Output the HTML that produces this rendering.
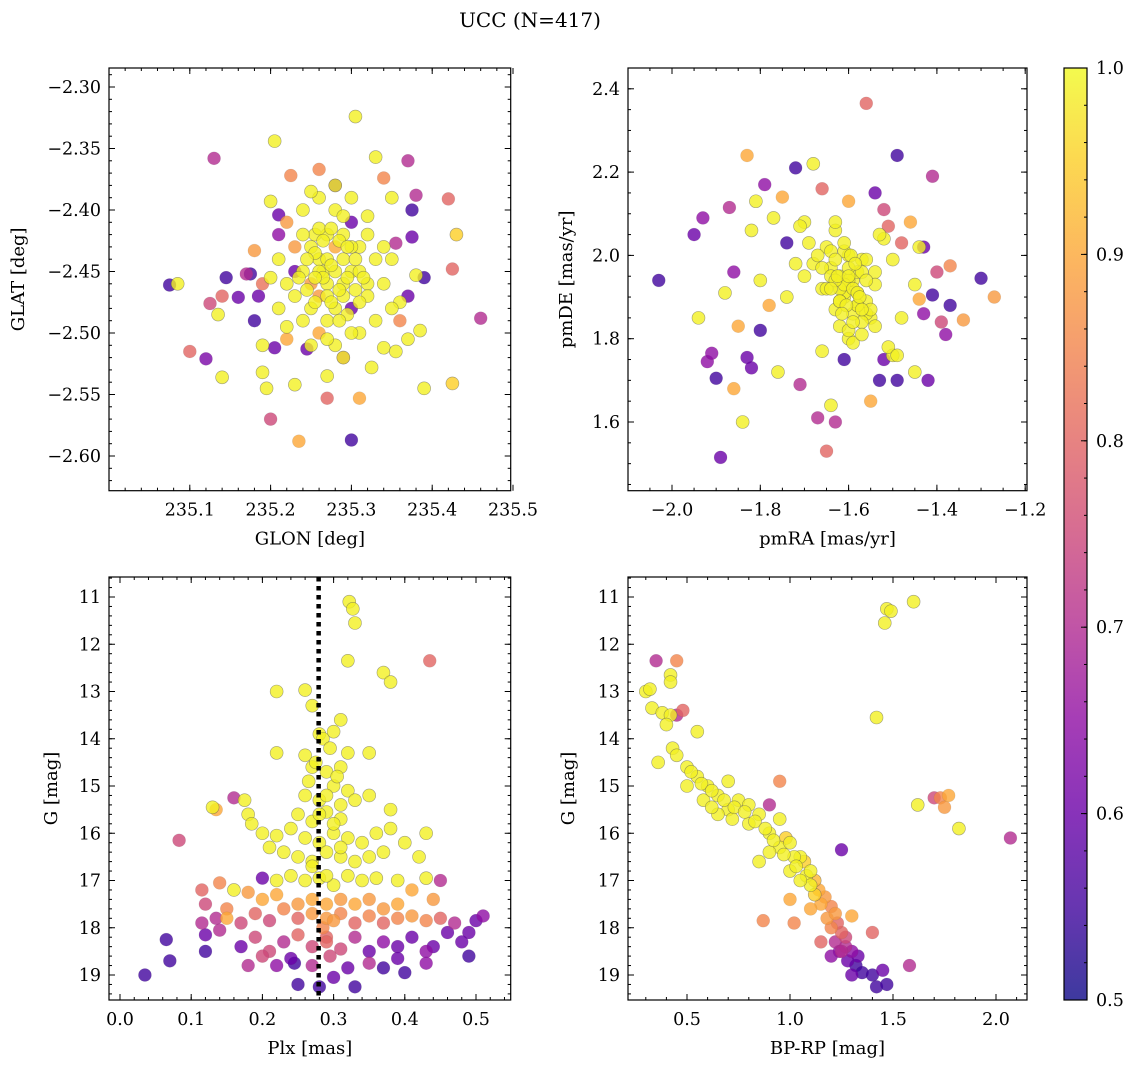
<!DOCTYPE html>
<html><head><meta charset="utf-8"><style>
html,body{margin:0;padding:0;background:#fff;}
svg{display:block;font-family:"DejaVu Serif","Liberation Serif",serif;}
</style></head><body>
<svg id="fig" width="1136" height="1067" viewBox="0 0 1136 1067">
<text x="530" y="27" text-anchor="middle" font-size="20">UCC (N=417)</text>
</svg>
<script>
// ---------- Panel 1: GLON vs GLAT ----------
const p1Lon=[235.075,235.085,235.13,235.125,235.10,235.12,235.14,235.145,235.14,235.135,235.16,235.17,235.175,235.18,235.185,235.18,235.19,235.19,235.195,235.19,235.2,235.205,235.205,235.21,235.2,235.21,235.22,235.225,235.235,235.23,235.245,235.255,235.26,235.265,235.27,235.27,235.28,235.29,235.3,235.305,235.31,235.325,235.33,235.34,235.34,235.35,235.355,235.36,235.37,235.375,235.38,235.375,235.38,235.39,235.385,235.39,235.37,235.37,235.42,235.425,235.43,235.425,235.46,235.355,235.32,235.35,235.36,
235.25,235.26,235.27,235.28,235.29,235.30,235.27,235.26,235.28,235.29,235.31,235.24,235.23,235.22,235.25,235.27,235.30,235.32,235.31,235.28,235.26,235.24,235.23,235.21,235.22,235.24,235.26,235.28,235.30,235.32,235.33,235.34,235.33,235.29,235.27,235.25,235.29,235.27,235.28,235.26,235.30,235.24,235.23,235.31,235.25,235.29,235.28,235.25,235.3,235.32,235.21,235.2,235.34,235.35,235.3,235.27,235.22,235.26,235.29,235.31,
235.255,235.265,235.275,235.285,235.295,235.305,235.245,235.235,235.255,235.275,235.295,235.315,235.265,235.285,235.305,235.245,235.275,235.295,235.255,235.285];
const p1Lat=[-2.461,-2.460,-2.358,-2.476,-2.515,-2.521,-2.536,-2.455,-2.470,-2.485,-2.471,-2.452,-2.452,-2.433,-2.47,-2.49,-2.46,-2.51,-2.545,-2.532,-2.57,-2.512,-2.344,-2.404,-2.393,-2.42,-2.505,-2.372,-2.588,-2.542,-2.513,-2.42,-2.367,-2.45,-2.535,-2.553,-2.38,-2.52,-2.587,-2.324,-2.553,-2.528,-2.357,-2.374,-2.512,-2.39,-2.427,-2.49,-2.36,-2.40,-2.388,-2.422,-2.453,-2.455,-2.498,-2.545,-2.47,-2.505,-2.391,-2.448,-2.42,-2.541,-2.488,-2.515,-2.46,-2.44,-2.475,
-2.43,-2.44,-2.42,-2.43,-2.44,-2.45,-2.46,-2.47,-2.48,-2.46,-2.43,-2.45,-2.43,-2.46,-2.48,-2.49,-2.48,-2.47,-2.50,-2.51,-2.50,-2.49,-2.47,-2.44,-2.41,-2.40,-2.39,-2.40,-2.41,-2.42,-2.44,-2.46,-2.49,-2.42,-2.44,-2.46,-2.47,-2.47,-2.45,-2.45,-2.43,-2.42,-2.45,-2.45,-2.51,-2.52,-2.38,-2.385,-2.39,-2.405,-2.48,-2.455,-2.43,-2.48,-2.5,-2.505,-2.495,-2.415,-2.405,-2.475,
-2.435,-2.455,-2.445,-2.465,-2.455,-2.44,-2.44,-2.455,-2.475,-2.475,-2.485,-2.455,-2.425,-2.425,-2.465,-2.465,-2.415,-2.43,-2.455,-2.49];
const p1Prob=[0.55,0.99,0.7,0.75,0.8,0.62,0.99,0.55,0.8,0.99,0.6,0.7,0.55,0.88,0.6,0.55,0.82,0.99,0.99,0.99,0.75,0.6,0.99,0.6,0.99,0.65,0.9,0.85,0.9,0.99,0.6,0.99,0.85,0.99,0.99,0.8,0.6,0.7,0.55,0.99,0.9,0.99,0.99,0.85,0.99,0.99,0.7,0.85,0.7,0.55,0.7,0.6,0.99,0.55,0.99,0.99,0.6,0.99,0.8,0.8,0.95,0.95,0.7,0.99,0.99,0.99,0.99,
0.99,0.99,0.99,0.9,0.99,0.99,0.99,0.88,0.99,0.99,0.99,0.99,0.88,0.99,0.99,0.99,0.6,0.99,0.99,0.99,0.9,0.99,0.99,0.99,0.88,0.99,0.99,0.99,0.6,0.99,0.99,0.99,0.99,0.99,0.99,0.88,0.99,0.99,0.99,0.99,0.99,0.99,0.6,0.99,0.99,0.99,0.99,0.99,0.99,0.99,0.99,0.99,0.99,0.99,0.99,0.99,0.99,0.99,0.99,0.99,
0.99,0.99,0.99,0.99,0.99,0.99,0.99,0.99,0.99,0.99,0.99,0.99,0.99,0.99,0.99,0.99,0.99,0.99,0.99,0.99];

// ---------- Panel 2: pmRA vs pmDE ----------
const p2RA=[-2.03,-1.95,-1.93,-1.94,-1.92,-1.91,-1.90,-1.89,-1.88,-1.87,-1.86,-1.86,-1.85,-1.84,-1.83,-1.83,-1.82,-1.82,-1.81,-1.8,-1.8,-1.79,-1.78,-1.77,-1.76,-1.75,-1.74,-1.72,-1.71,-1.7,-1.68,-1.67,-1.66,-1.65,-1.64,-1.63,-1.61,-1.6,-1.56,-1.55,-1.54,-1.53,-1.52,-1.51,-1.49,-1.49,-1.48,-1.46,-1.44,-1.43,-1.42,-1.41,-1.41,-1.4,-1.39,-1.38,-1.37,-1.37,-1.34,-1.3,-1.27,-1.45,-1.44,-1.43,-1.45,-1.5,-1.52,
-1.60,-1.62,-1.58,-1.64,-1.56,-1.66,-1.54,-1.60,-1.63,-1.57,-1.61,-1.59,-1.65,-1.55,-1.68,-1.52,-1.62,-1.58,-1.60,-1.64,-1.56,-1.70,-1.50,-1.63,-1.57,-1.61,-1.59,-1.66,-1.54,-1.60,-1.67,-1.53,-1.62,-1.58,-1.65,-1.55,-1.69,-1.51,-1.72,-1.48,-1.60,-1.63,-1.57,-1.74,-1.61,-1.59,-1.66,-1.54,-1.64,-1.56,-1.71,-1.49,-1.62,-1.58,
-1.61,-1.59,-1.63,-1.57,-1.62,-1.58,-1.60,-1.64,-1.56,-1.605,-1.595,-1.615,-1.585,-1.625,-1.575,-1.61,-1.59,-1.6,-1.57,-1.63];
const p2DE=[1.94,2.05,2.09,1.85,1.745,1.765,1.705,1.515,1.91,2.115,1.96,1.68,1.83,1.60,2.24,1.755,1.73,2.06,2.13,1.94,1.82,2.17,1.88,2.09,1.72,2.14,2.03,2.21,1.69,2.08,2.22,1.61,2.16,1.53,1.64,1.60,1.75,2.13,2.365,1.65,2.15,1.70,2.11,2.07,2.24,1.70,2.03,2.08,2.02,2.02,1.70,2.19,1.905,1.96,1.84,1.81,1.88,1.975,1.845,1.945,1.90,1.93,1.895,1.86,1.72,1.76,1.75,
1.93,1.95,1.91,1.97,1.89,1.92,1.96,2.00,1.87,1.99,1.90,1.94,2.02,1.85,1.98,2.04,1.83,1.88,1.80,2.01,1.86,1.95,1.99,2.06,1.84,1.91,1.79,1.97,1.93,1.82,2.00,2.05,1.89,1.96,1.92,1.87,2.03,1.78,1.98,1.85,1.94,2.08,1.81,1.90,2.01,1.86,1.77,1.83,1.95,1.99,2.07,1.76,1.92,1.88,
1.93,1.92,1.94,1.96,1.89,1.91,1.97,1.92,1.94,1.88,2.0,1.86,1.98,1.95,1.90,2.03,1.84,1.95,1.87,1.99];
const p2Prob=[0.55,0.6,0.65,0.99,0.65,0.65,0.55,0.6,0.99,0.7,0.65,0.9,0.9,0.99,0.9,0.6,0.6,0.99,0.99,0.99,0.55,0.65,0.9,0.99,0.99,0.9,0.55,0.55,0.7,0.99,0.99,0.7,0.8,0.8,0.99,0.7,0.55,0.9,0.8,0.9,0.6,0.55,0.75,0.8,0.55,0.55,0.8,0.9,0.99,0.6,0.6,0.7,0.55,0.75,0.75,0.65,0.55,0.85,0.88,0.55,0.88,0.99,0.9,0.65,0.99,0.99,0.6,
0.99,0.99,0.99,0.99,0.99,0.99,0.99,0.99,0.99,0.99,0.99,0.99,0.99,0.99,0.99,0.99,0.99,0.99,0.99,0.99,0.99,0.99,0.99,0.99,0.99,0.99,0.99,0.99,0.99,0.99,0.99,0.99,0.99,0.99,0.99,0.99,0.99,0.99,0.99,0.99,0.99,0.99,0.99,0.99,0.99,0.99,0.99,0.99,0.99,0.99,0.99,0.99,0.99,0.99,
0.99,0.99,0.99,0.99,0.99,0.99,0.99,0.99,0.99,0.99,0.99,0.99,0.99,0.99,0.99,0.99,0.99,0.99,0.99,0.99];

// ---------- Panel 3: Plx vs G ----------
const p3Plx=[0.322,0.327,0.33,0.32,0.37,0.38,0.435,0.22,0.26,0.27,0.31,0.28,0.3,0.22,0.26,0.32,0.35,0.27,0.29,0.31,0.265,0.3,0.32,0.26,0.28,0.31,0.33,0.35,0.38,0.13,0.135,0.16,0.175,0.18,0.185,0.2,0.22,0.24,0.26,0.28,0.3,0.32,0.34,0.36,0.38,0.4,0.43,0.27,0.31,0.29,0.25,0.23,0.25,0.27,0.29,0.31,0.33,0.35,0.37,0.21,0.42,0.083,0.2,0.22,0.24,0.26,0.28,0.3,0.32,0.34,0.36,0.39,0.43,0.45,0.41,0.115,0.14,0.16,0.18,0.2,0.22,0.25,0.27,0.29,0.31,0.33,0.35,0.37,0.39,0.44,0.12,0.135,0.15,0.17,0.19,0.21,0.23,0.25,0.27,0.29,0.31,0.33,0.35,0.37,0.39,0.41,0.43,0.45,0.47,0.49,0.5,0.51,0.115,0.12,0.14,0.15,0.17,0.19,0.21,0.23,0.25,0.27,0.29,0.31,0.33,0.35,0.37,0.39,0.41,0.43,0.44,0.46,0.48,0.065,0.07,0.035,0.12,0.18,0.2,0.22,0.24,0.245,0.25,0.27,0.28,0.3,0.32,0.33,0.35,0.37,0.39,0.4,0.43,0.49,0.3,0.285,0.29,0.295,
0.285,0.295,0.275,0.305,0.29,0.28,0.3,0.31,0.27,0.29];
const p3G=[11.1,11.25,11.55,12.35,12.6,12.8,12.35,13.0,12.97,13.3,13.6,13.9,13.85,14.3,14.35,14.3,14.3,14.6,14.7,14.6,14.9,15.0,15.1,15.2,15.3,15.4,15.3,15.2,15.5,15.45,15.5,15.25,15.3,15.6,15.8,16.0,16.05,15.9,16.1,16.2,16.0,16.1,16.2,16.0,15.9,16.2,16.0,15.75,15.7,15.55,15.6,16.4,16.5,16.6,16.4,16.5,16.6,16.5,16.4,16.3,16.5,16.15,16.95,17.0,16.9,17.0,16.95,17.1,16.9,17.0,16.95,17.0,16.95,17.0,17.2,17.2,17.05,17.2,17.25,17.4,17.3,17.5,17.4,17.5,17.4,17.5,17.4,17.6,17.5,17.4,17.5,17.8,17.6,17.9,17.7,17.85,17.6,17.8,17.7,17.8,17.7,17.9,17.75,17.9,17.8,17.75,17.85,17.8,17.9,18.1,17.85,17.75,17.9,18.15,18.05,17.8,18.4,18.2,18.5,18.3,18.15,18.4,18.2,18.45,18.2,18.5,18.3,18.4,18.2,18.5,18.4,18.1,18.3,18.25,18.7,19.0,18.5,18.8,18.6,18.8,18.65,18.75,19.2,18.8,19.25,19.05,18.85,19.25,18.75,18.85,18.65,18.95,18.75,18.6,17.85,18.0,18.3,18.6,
14.0,14.2,14.5,14.8,15.2,15.6,15.8,16.3,16.7,16.9];
const p3Prob=[0.99,0.99,0.99,0.99,0.99,0.99,0.8,0.99,0.99,0.99,0.99,0.99,0.99,0.99,0.99,0.99,0.99,0.99,0.99,0.99,0.99,0.99,0.99,0.99,0.99,0.99,0.99,0.99,0.99,0.99,0.9,0.7,0.99,0.99,0.99,0.99,0.99,0.99,0.99,0.99,0.99,0.99,0.99,0.99,0.99,0.99,0.99,0.99,0.99,0.99,0.99,0.99,0.99,0.99,0.99,0.99,0.99,0.99,0.99,0.99,0.99,0.75,0.6,0.99,0.99,0.99,0.99,0.99,0.99,0.99,0.99,0.99,0.99,0.7,0.9,0.8,0.85,0.99,0.88,0.9,0.9,0.88,0.9,0.9,0.88,0.9,0.88,0.88,0.9,0.88,0.75,0.7,0.85,0.75,0.8,0.75,0.85,0.8,0.88,0.88,0.85,0.8,0.85,0.8,0.85,0.88,0.85,0.8,0.7,0.6,0.6,0.65,0.7,0.6,0.7,0.9,0.6,0.75,0.75,0.7,0.8,0.75,0.8,0.75,0.7,0.6,0.65,0.6,0.6,0.65,0.6,0.6,0.6,0.55,0.55,0.55,0.55,0.7,0.75,0.65,0.6,0.55,0.55,0.7,0.55,0.6,0.6,0.55,0.7,0.55,0.6,0.55,0.65,0.55,0.88,0.85,0.8,0.75,
0.99,0.99,0.99,0.99,0.99,0.99,0.99,0.99,0.99,0.99];

// ---------- Panel 4: BP-RP vs G ----------
const p4Col=[1.6,1.47,1.49,1.46,1.42,0.35,0.45,0.42,0.42,0.3,0.32,0.33,0.38,0.42,0.45,0.48,0.55,0.4,0.43,0.36,0.45,0.5,0.55,0.6,0.5,0.65,0.58,0.7,0.75,0.8,0.72,0.8,0.85,0.9,0.95,0.95,0.95,1.0,1.05,1.0,1.08,1.1,1.05,1.12,1.15,1.1,1.18,1.22,1.2,1.25,1.22,1.27,1.3,1.28,1.32,1.35,1.4,1.42,1.47,1.45,1.58,1.25,0.9,0.87,1.02,1.4,1.62,1.7,1.73,1.75,1.77,1.82,2.07,1.3,1.25,1.2,1.3,1.15,1.0,0.85,0.65,0.7,0.62,0.9,1.1,1.02,0.98,
0.52,0.57,0.62,0.68,0.73,0.78,0.83,0.88,0.92,0.97,1.03,1.07,1.12,1.14,1.17,1.2,1.23,1.27,1.24,1.33];
const p4G=[11.1,11.25,11.3,11.55,13.55,12.35,12.35,12.65,12.8,13.0,12.95,13.35,13.45,13.5,13.5,13.4,13.85,13.7,14.2,14.5,14.35,14.6,14.8,15.0,15.0,15.2,15.3,15.5,15.3,15.4,15.7,15.8,15.6,16.0,15.7,14.9,16.3,16.2,16.5,16.8,16.9,17.1,17.0,17.3,17.5,17.6,17.8,17.7,18.0,18.1,18.3,18.4,18.5,18.7,18.8,18.95,19.0,19.25,19.2,18.9,18.8,16.35,15.4,17.85,17.9,18.1,15.4,15.25,15.25,15.45,15.2,15.9,16.1,17.75,18.5,18.6,19.0,18.3,17.4,16.6,15.6,14.9,15.45,16.4,16.8,16.5,16.1,
14.7,14.95,15.1,15.3,15.45,15.55,15.75,15.9,16.15,16.45,16.7,16.6,17.0,17.2,17.35,17.55,17.9,18.2,18.5,18.6];
const p4Prob=[0.99,0.99,0.99,0.99,0.99,0.7,0.85,0.99,0.99,0.99,0.99,0.99,0.99,0.99,0.7,0.8,0.99,0.99,0.99,0.99,0.99,0.99,0.99,0.99,0.99,0.99,0.99,0.99,0.99,0.99,0.99,0.99,0.99,0.99,0.99,0.85,0.99,0.99,0.99,0.99,0.99,0.99,0.99,0.95,0.9,0.9,0.88,0.88,0.85,0.8,0.7,0.7,0.65,0.6,0.55,0.55,0.55,0.55,0.55,0.6,0.7,0.6,0.7,0.85,0.85,0.8,0.99,0.75,0.85,0.88,0.9,0.99,0.7,0.9,0.7,0.65,0.6,0.8,0.9,0.99,0.99,0.99,0.99,0.99,0.99,0.99,0.95,
0.99,0.99,0.99,0.99,0.99,0.99,0.99,0.99,0.99,0.99,0.99,0.95,0.92,0.9,0.88,0.85,0.8,0.75,0.65,0.6];

const cbTicks=[0.5,0.6,0.7,0.8,0.9,1.0];
const plxMedian=0.279;

const NS='http://www.w3.org/2000/svg';
const svg=document.getElementById('fig');
function mk(tag,attrs,parent){const e=document.createElementNS(NS,tag);for(const k in attrs)e.setAttribute(k,attrs[k]);(parent||svg).appendChild(e);return e;}
const stops=[[13,8,135],[65,4,157],[106,0,168],[143,13,164],[177,42,144],[204,71,120],[225,100,98],[242,132,75],[252,166,54],[252,206,37],[240,249,33]];
function plasma(t){if(!isFinite(t))t=1;t=Math.max(0,Math.min(1,t));const f=t*10,i=Math.min(9,Math.floor(f)),r=f-i;const a=stops[i],b=stops[i+1];return 'rgb('+a.map((v,k)=>Math.round(v+(b[k]-v)*r)).join(',')+')';}
function pcolor(p){return plasma((p-0.5)/0.5);}

function panel(o){
  const g=mk('g',{});
  
  
  const X=v=>o.L+(v-o.x0)/(o.x1-o.x0)*(o.R-o.L);
  const Y=o.invert?(v=>o.T+(v-o.y0)/(o.y1-o.y0)*(o.B-o.T)):(v=>o.B-(v-o.y0)/(o.y1-o.y0)*(o.B-o.T));
  const n=Math.min(o.xs.length,o.ys.length,o.ps.length);
  const idx=[];for(let i=0;i<n;i++)idx.push(i);
  idx.sort((a,b)=>o.ps[a]-o.ps[b]);
  const pts=mk('g',{},g);
  
  
  idx.forEach(i=>{
    const c=mk('circle',{cx:X(o.xs[i]),cy:Y(o.ys[i]),r:6.5,fill:pcolor(o.ps[i]),'fill-opacity':0.8,stroke:'#555','stroke-opacity':o.ps[i]>0.9?0.55:0.15,'stroke-width':0.6},pts);
    
    
  });
  if(o.vline!==undefined){
    const l=mk('line',{x1:X(o.vline),x2:X(o.vline),y1:o.T,y2:o.B,stroke:'#000','stroke-width':4.5,'stroke-dasharray':'4.5 4.5'},g);
    
    
  }
  const ax=mk('g',{stroke:'#000','stroke-width':1},g);
  
  
  const eps=1e-6;
  for(let v=Math.ceil(o.x0/o.xm-eps)*o.xm;v<=o.x1+eps;v+=o.xm){const x=X(v);mk('line',{x1:x,x2:x,y1:o.B,y2:o.B-3},ax);mk('line',{x1:x,x2:x,y1:o.T,y2:o.T+3},ax);}
  for(let v=Math.ceil(o.y0/o.ym-eps)*o.ym;v<=o.y1+eps;v+=o.ym){const y=Y(v);mk('line',{x1:o.L,x2:o.L+3,y1:y,y2:y},ax);mk('line',{x1:o.R,x2:o.R-3,y1:y,y2:y},ax);}
  o.xt.forEach(v=>{const x=X(v);mk('line',{x1:x,x2:x,y1:o.B,y2:o.B-6},ax);mk('line',{x1:x,x2:x,y1:o.T,y2:o.T+6},ax);
    const t=mk('text',{x:x,y:o.B+25,'text-anchor':'middle','font-size':17.5},g);t.textContent=o.xf(v);
    });
  o.yt.forEach(v=>{const y=Y(v);mk('line',{x1:o.L,x2:o.L+6,y1:y,y2:y},ax);mk('line',{x1:o.R,x2:o.R-6,y1:y,y2:y},ax);
    const t=mk('text',{x:o.L-8,y:y+6,'text-anchor':'end','font-size':17.5},g);t.textContent=o.yf(v);
    });
  mk('rect',{x:o.L,y:o.T,width:o.R-o.L,height:o.B-o.T,fill:'none',stroke:'#000','stroke-width':1.2},g);
  const xl=mk('text',{x:(o.L+o.R)/2,y:o.B+54,'text-anchor':'middle','font-size':18},g);xl.textContent=o.xlab;
  
  const yx=o.L-o.ylo,yy=(o.T+o.B)/2;
  const yl=mk('text',{x:yx,y:yy,'text-anchor':'middle','font-size':18,transform:'rotate(-90 '+yx+' '+yy+')'},g);yl.textContent=o.ylab;
  
}
const neg=v=>v<0?'\u2212'+Math.abs(v).toFixed(2):v.toFixed(2);
const neg1=v=>v<0?'\u2212'+Math.abs(v).toFixed(1):v.toFixed(1);
const GPX=47.25;
panel({name:'glon-glat-panel',L:109,R:510.7,T:68,B:490.7,x0:235.0,x1:235.0+401.7/808,y0:-2.6+(456-490.7)/1230,y1:-2.6+(456-68)/1230,
  xs:p1Lon,ys:p1Lat,ps:p1Prob,xm:0.02,ym:0.01,xt:[235.1,235.2,235.3,235.4,235.5],yt:[-2.6,-2.55,-2.5,-2.45,-2.4,-2.35,-2.3],
  xf:v=>v.toFixed(1),yf:neg,xlab:'GLON [deg]',ylab:'GLAT [deg]',ylo:85});
panel({name:'pm-panel',L:628,R:1027,T:68,B:490.7,x0:-2.0-(672-628)/441.5,x1:-2.0+(1027-672)/441.5,y0:1.6-(490.7-422)/416.5,y1:1.6+(422-68)/416.5,
  xs:p2RA,ys:p2DE,ps:p2Prob,xm:0.05,ym:0.05,xt:[-2.0,-1.8,-1.6,-1.4,-1.2],yt:[1.6,1.8,2.0,2.2,2.4],
  xf:neg1,yf:v=>v.toFixed(1),xlab:'pmRA [mas/yr]',ylab:'pmDE [mas/yr]',ylo:56});
panel({name:'plx-g-panel',L:109,R:510.7,T:577,B:1000,x0:-(120-109)/712,x1:(510.7-120)/712,invert:true,y0:11-(597-577)/GPX,y1:11+(1000-597)/GPX,
  xs:p3Plx,ys:p3G,ps:p3Prob,xm:0.02,ym:0.2,xt:[0,0.1,0.2,0.3,0.4,0.5],yt:[11,12,13,14,15,16,17,18,19],
  xf:v=>v.toFixed(1),yf:v=>String(v),xlab:'Plx [mas]',ylab:'G [mag]',ylo:52,vline:plxMedian});
panel({name:'cmd-panel',L:628,R:1027,T:577,B:1000,x0:0.5-(687-628)/206,x1:0.5+(1027-687)/206,invert:true,y0:11-(597-577)/GPX,y1:11+(1000-597)/GPX,
  xs:p4Col,ys:p4G,ps:p4Prob,xm:0.1,ym:0.2,xt:[0.5,1.0,1.5,2.0],yt:[11,12,13,14,15,16,17,18,19],
  xf:v=>v.toFixed(1),yf:v=>String(v),xlab:'BP-RP [mag]',ylab:'G [mag]',ylo:54});

// colorbar
const cb=mk('g',{});


const defs=mk('defs',{},cb);const lg=mk('linearGradient',{id:'cbg',x1:0,y1:1,x2:0,y2:0},defs);
for(let i=0;i<=10;i++)mk('stop',{offset:(i/10),'stop-color':plasma(i/10)},lg);
const cT=68,cB=1000,cL=1064,cR=1087;
mk('rect',{x:cL,y:cT,width:cR-cL,height:cB-cT,fill:'url(#cbg)','fill-opacity':0.8},cb);
mk('rect',{x:cL,y:cT,width:cR-cL,height:cB-cT,fill:'none',stroke:'#000','stroke-width':1.2},cb);
const CY=v=>cB-(v-0.5)/0.5*(cB-cT);
for(let v=0.5;v<=1.0001;v+=0.02){mk('line',{x1:cR,x2:cR-3,y1:CY(v),y2:CY(v),stroke:'#000'},cb);}
cbTicks.forEach(v=>{const y=CY(v);mk('line',{x1:cR,x2:cR-6,y1:y,y2:y,stroke:'#000'},cb);
  const t=mk('text',{x:cR+9,y:y+6,'font-size':17.5},cb);t.textContent=v.toFixed(1);
  });
</script>
</body></html>
